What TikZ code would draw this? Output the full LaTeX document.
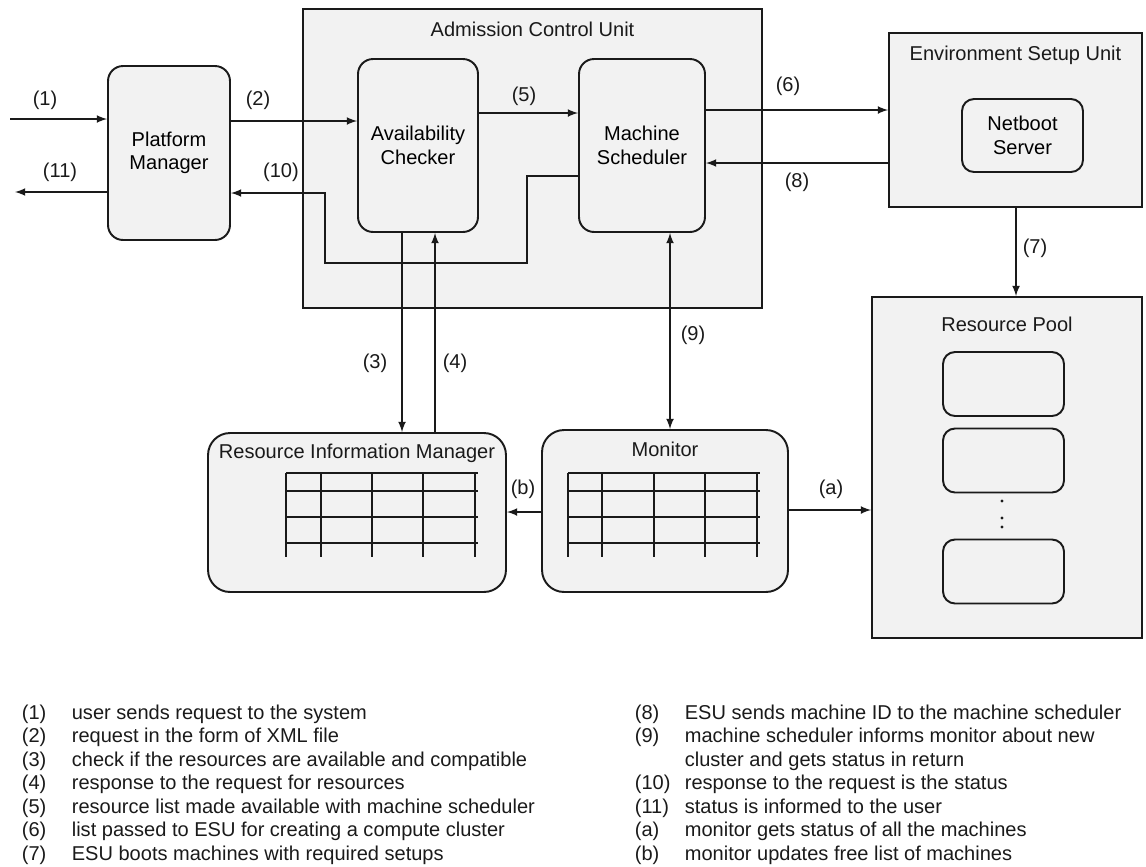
\documentclass[tikz,border=0pt]{standalone}
\usepackage{fontspec}
\setmainfont{Liberation Sans}
\usetikzlibrary{calc}
\usetikzlibrary{positioning}
\definecolor{boxgray}{HTML}{F2F2F2}
\definecolor{ink}{HTML}{1A1A1A}

\begin{document}
\begin{tikzpicture}[x=0.02cm,y=-0.02cm,>=latex,line width=1pt,draw=ink,
    font=\fontsize{11.4}{13.4}\selectfont,
    unit/.style={draw=ink,line width=1.1pt,fill=boxgray,inner sep=0pt},
    block/.style={unit,rounded corners=0.3cm,align=center},
    slot/.style={draw=ink,line width=1.1pt,rounded corners=0.24cm,inner sep=0pt},
    tag/.style={text=ink,inner sep=1pt}]
    \useasboundingbox (0,0) rectangle (1146,866);
    % admission control unit
    \node[unit,minimum width=9.18cm,minimum height=5.98cm] (acu) at (532.5,158.5) {};
    \node[tag] (acutitle) at ($(acu.north)+(0,21)$) {Admission Control Unit};
    \node[block,minimum width=2.4cm,minimum height=3.46cm] (ac) at (418,145.5) {Availability\\Checker};
    \node[block,minimum width=2.52cm,minimum height=3.46cm] (ms) at (642,145.5) {Machine\\Scheduler};
    \node[block,minimum width=2.44cm,minimum height=3.48cm] (pm) at (169,153) {Platform\\Manager};
    % environment setup unit
    \node[unit,minimum width=5.06cm,minimum height=3.48cm] (esu) at (1015.5,120) {};
    \node[tag] (esutitle) at ($(esu.north)+(0,23)$) {Environment Setup Unit};
    \node[block,rounded corners=0.24cm,minimum width=2.42cm,minimum height=1.46cm] (nbs) at (1022.5,135.5) {Netboot\\Server};
    % resource pool
    \node[unit,minimum width=5.4cm,minimum height=6.82cm] (rp) at (1007,467.5) {};
    \node[tag] (rptitle) at ($(rp.north)+(0,28)$) {Resource Pool};
    \node[slot,minimum width=2.42cm,minimum height=1.28cm] (m1) at (1003.5,384) {};
    \node[slot,minimum width=2.42cm,minimum height=1.28cm] (m2) at (1003.5,460.5) {};
    \node[slot,minimum width=2.42cm,minimum height=1.28cm] (m3) at (1003.5,571.5) {};
    \fill[ink] (1002,501) circle (1.6) (1002,518) circle (1.6) (1002,527) circle (1.6);
    % resource information manager and monitor
    \node[block,rounded corners=0.44cm,minimum width=5.96cm,minimum height=3.18cm] (rim) at (357,512.5) {};
    \node[tag] (rimtitle) at ($(rim.north)+(0,21)$) {Resource Information Manager};
    \node[block,rounded corners=0.44cm,minimum width=4.92cm,minimum height=3.24cm] (mon) at (665,511) {};
    \node[tag] (montitle) at ($(mon.north)+(0,20)$) {Monitor};
    \draw[line width=1.2pt] (286,473) -- (478,473) (286,491) -- (478,491)
                            (286,517) -- (478,517) (286,543) -- (478,543);
    \draw[line width=1.2pt] (286,473) -- (286,557) (321,473) -- (321,557) (372,473) -- (372,557)
                            (423,473) -- (423,557) (475,473) -- (475,557);
    \draw[line width=1.2pt] (568,473) -- (760,473) (568,491) -- (760,491)
                            (568,517) -- (760,517) (568,543) -- (760,543);
    \draw[line width=1.2pt] (568,473) -- (568,557) (602,473) -- (602,557) (654,473) -- (654,557)
                            (705,473) -- (705,557) (757,473) -- (757,557);
    %
    \coordinate (usrin) at (10,119);
    \coordinate (usrout) at (15,192);
    \draw[->] (usrin) -- (usrin -| pm.west);
    \draw[->] (usrout -| pm.west) -- (usrout);
    \draw[->] (pm.east |- 0,121) -- (ac.west |- 0,121);
    \draw[->] (ac.east |- 0,113) -- (ms.west |- 0,113);
    \draw[->] (ms.east |- 0,110) -- (esu.west |- 0,110);
    \draw[->] (esu.west |- 0,163) -- (ms.east |- 0,163);
    \draw[->] (esu.south -| 1016,0) -- (rp.north -| 1016,0);
    \draw[->] (ac.south -| 402,0) -- (rim.north -| 402,0);
    \draw[->] (rim.north -| 435,0) -- (ac.south -| 435,0);
    \draw[<->] (mon.north -| 670,0) -- (ms.south -| 670,0);
    \draw[->] (mon.east |- 0,510) -- (rp.west |- 0,510);
    \draw[->] (mon.west |- 0,512) -- (rim.east |- 0,512);
    \draw[->] (ms.west |- 0,176) -| (527,263) -| (325,193) -- (pm.east |- 0,193);
    % step labels
    \node[tag] (l1) at (45,100) {(1)};
    \node[tag] (l2) at (258,100) {(2)};
    \node[tag] (l3) at (375,363) {(3)};
    \node[tag] (l4) at (455,363) {(4)};
    \node[tag] (l5) at (524,96) {(5)};
    \node[tag] (l6) at (788,86) {(6)};
    \node[tag] (l7) at (1035,248) {(7)};
    \node[tag] (l8) at (797,182) {(8)};
    \node[tag] (l9) at (693,335) {(9)};
    \node[tag] (l10) at (281,172) {(10)};
    \node[tag] (l11) at (60,172) {(11)};
    \node[tag] (la) at (831,489) {(a)};
    \node[tag] (lb) at (523,489) {(b)};
    % legend
    \node[tag,anchor=base west,inner sep=0pt] (keyleft) at (21,719) {%
      \begin{tabular}[t]{@{}p{1cm}@{}l@{}}
        (1) & user sends request to the system\\
        (2) & request in the form of XML file\\
        (3) & check if the resources are available and compatible\\
        (4) & response to the request for resources\\
        (5) & resource list made available with machine scheduler\\
        (6) & list passed to ESU for creating a compute cluster\\
        (7) & ESU boots machines with required setups
      \end{tabular}};
    \node[tag,anchor=base west,inner sep=0pt] (keyright) at (634,719) {%
      \begin{tabular}[t]{@{}p{1cm}@{}l@{}}
        (8) & ESU sends machine ID to the machine scheduler\\
        (9) & machine scheduler informs monitor about new\\
            & cluster and gets status in return\\
        (10) & response to the request is the status\\
        (11) & status is informed to the user\\
        (a) & monitor gets status of all the machines\\
        (b) & monitor updates free list of machines
      \end{tabular}};
\end{tikzpicture}
\end{document}
